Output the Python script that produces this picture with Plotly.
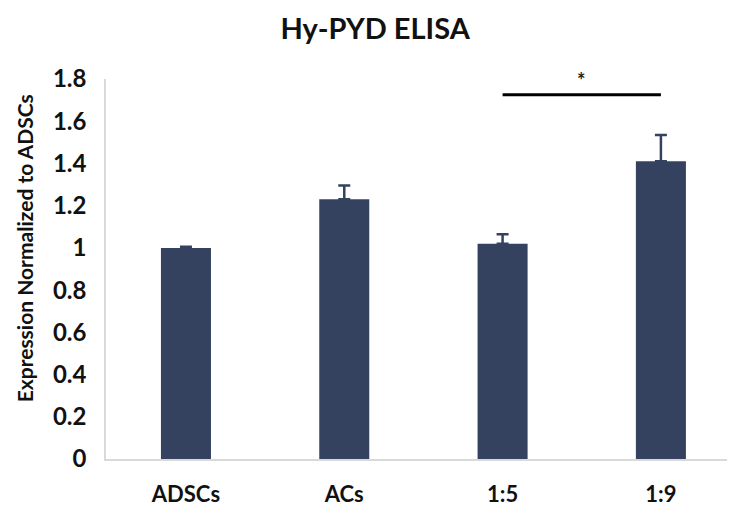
import plotly.graph_objects as go

categories = ["ADSCs", "ACs", "1:5", "1:9"]
values = [1.00, 1.23, 1.02, 1.41]
errors = [0.005, 0.065, 0.045, 0.125]
y_ticks = [0, 0.2, 0.4, 0.6, 0.8, 1.0, 1.2, 1.4, 1.6, 1.8]
y_tick_labels = ["0", "0.2", "0.4", "0.6", "0.8", "1", "1.2", "1.4", "1.6", "1.8"]
sig_pair = ("1:5", "1:9")
sig_level = 1.725
sig_label = "*"

BAR = "#344260"
FONT = "Lato, 'Open Sans', sans-serif"

fig = go.Figure(go.Bar(
    x=categories, y=values,
    marker=dict(color=BAR, line=dict(width=0)),
    error_y=dict(type="data", array=errors, arrayminus=[0]*len(errors),
                 symmetric=False, color=BAR, thickness=2.5, width=6),
))

i0 = categories.index(sig_pair[0])
i1 = categories.index(sig_pair[1])
fig.add_shape(type="line", xref="x", yref="y", x0=i0, x1=i1,
              y0=sig_level, y1=sig_level, line=dict(color="black", width=3))
fig.add_annotation(x=(i0 + i1) / 2, y=sig_level, xref="x", yref="y",
                   text="<b>" + sig_label + "</b>", showarrow=False, yanchor="bottom", yshift=1,
                   font=dict(family=FONT, size=20, color="#222"))

# y-axis title as a rotated annotation
fig.add_annotation(text="<b>Expression Normalized to ADSCs</b>", textangle=-90,
                   xref="paper", yref="paper", x=-0.130, y=0.555,
                   xanchor="center", yanchor="middle", showarrow=False,
                   font=dict(family=FONT, size=21, color="#111"))

# page body has an 8px margin, so the figure is sized to the remaining area
fig.update_layout(
    width=727, height=499,
    margin=dict(l=98, r=0, t=71, b=48, autoexpand=False),
    paper_bgcolor="white", plot_bgcolor="white",
    bargap=0.684,
    showlegend=False,
    title=dict(text="<b>Hy-PYD ELISA</b>", x=0.505, xanchor="center",
               y=0.958, yanchor="middle", font=dict(family=FONT, size=29, color="#111")),
    font=dict(family=FONT, color="#111"),
)
fig.update_xaxes(range=[-0.505, 3.468], showline=True, linecolor="#d9d9d9", linewidth=1.5,
                 ticks="", showgrid=False, zeroline=False, automargin=False,
                 tickvals=categories, ticktext=[f"<b>{c}</b>" for c in categories],
                 tickfont=dict(family=FONT, size=22, color="#111"),
                 ticklabelstandoff=15)
fig.update_yaxes(range=[0, 1.8], tickvals=y_ticks, ticktext=[f"<b>{t}</b>" for t in y_tick_labels],
                 showline=True, linecolor="#d9d9d9", linewidth=1.5, ticks="",
                 showgrid=False, zeroline=False, automargin=False,
                 tickfont=dict(family=FONT, size=24, color="#111"),
                 ticklabelstandoff=13)

fig.write_html("out.html")
